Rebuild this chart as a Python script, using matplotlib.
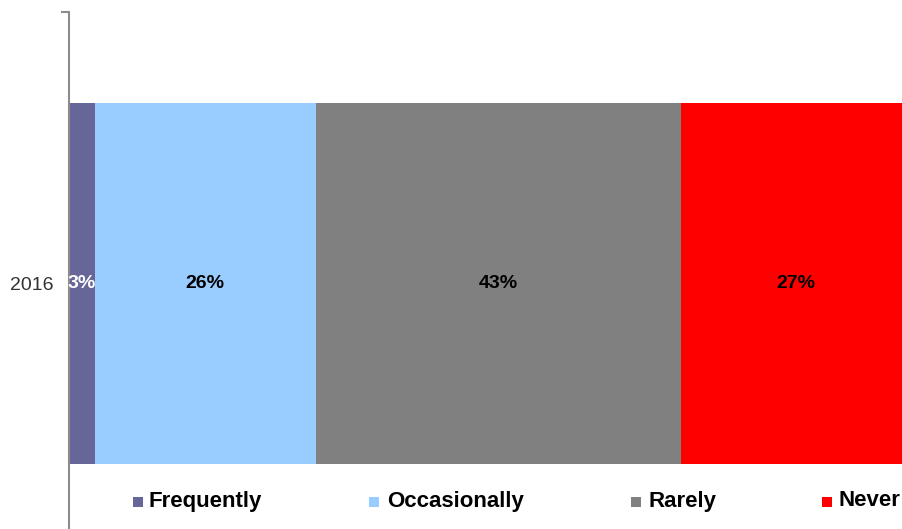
import matplotlib.pyplot as plt
from matplotlib.patches import Rectangle

plt.rcParams['font.family'] = ['Liberation Sans', 'DejaVu Sans']

# Share of responses for 2016 (percent)
years = ['2016']
categories = ['Frequently', 'Occasionally', 'Rarely', 'Never']
values = [3, 26, 43, 27]
colors = ['#666699', '#99CCFF', '#808080', '#FF0000']
label_colors = ['white', 'black', 'black', 'black']

W, H = 902, 529
fig = plt.figure(figsize=(W / 100, H / 100), dpi=100)

# axes run a bit past the right and bottom edges of the canvas
ax_left, ax_right = 69, 919
ax_top, ax_bottom = 12, 540
ax = fig.add_axes([ax_left / W, 1 - ax_bottom / H,
                   (ax_right - ax_left) / W, (ax_bottom - ax_top) / H])

left = 0
for val, col, lc in zip(values, colors, label_colors):
    ax.barh(0, val, left=left, height=1.0, color=col, linewidth=0)
    ax.text(left + val / 2, 0, f'{val}%', ha='center', va='center',
            fontsize=14, fontweight='bold', color=lc)
    left += val

ax.set_xlim(0, 100)
ax.set_ylim(-0.7105, 0.752)

for s in ['top', 'right', 'bottom']:
    ax.spines[s].set_visible(False)
ax.spines['left'].set_color('#8c8c8c')
ax.spines['left'].set_linewidth(1.5)
ax.set_xticks([])
ax.set_yticks([0])
ax.set_yticklabels(years, fontsize=14, color='#333333')
ax.tick_params(axis='y', length=0, pad=11)
ax.set_yticks([0.752], minor=True)
ax.tick_params(axis='y', which='minor', length=6, width=1.5, color='#8c8c8c')

# legend row along the bottom
marker_x = [133, 369, 631, 822]
text_x = [149, 387, 648, 838]
for mx, tx, name, col in zip(marker_x, text_x, categories, colors):
    fig.add_artist(Rectangle((mx / W, 1 - 507 / H), 10 / W, 10 / H,
                             transform=fig.transFigure, color=col, lw=0))
    fig.text(tx / W, 1 - 501 / H, name, ha='left', va='center',
             fontsize=16, fontweight='bold', color='black')

fig.savefig('out.png', dpi=100)
